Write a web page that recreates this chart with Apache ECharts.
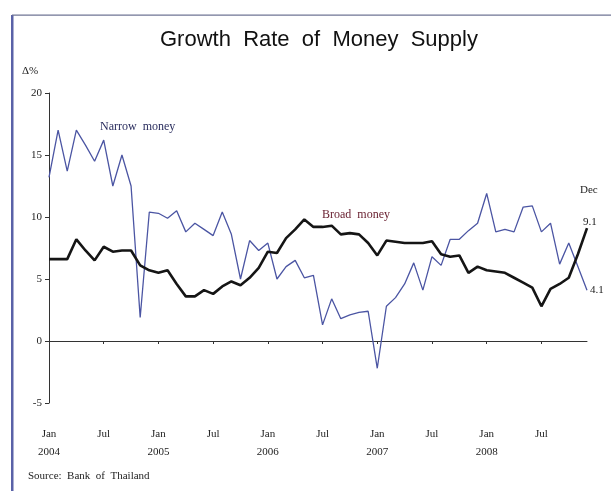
<!DOCTYPE html>
<html>
<head>
<meta charset="utf-8">
<script src="https://cdn.jsdelivr.net/npm/echarts@6/dist/echarts.min.js"></script>
<style>
html,body{margin:0;padding:0;background:#fff;}
#chart{width:611px;height:491px;}
</style>
</head>
<body>
<div id="chart"></div>
<script>
const years = ['2004', '2005', '2006', '2007', '2008'];
const monthNames = ['Jan','Feb','Mar','Apr','May','Jun','Jul','Aug','Sep','Oct','Nov','Dec'];
const categories = [];
years.forEach(y => monthNames.forEach(m => categories.push(m + ' ' + y)));

const tickLabels = ['Jan\n2004','Jul','Jan\n2005','Jul','Jan\n2006','Jul','Jan\n2007','Jul','Jan\n2008','Jul'];
const yTicks = { min: -5, max: 20, interval: 5 };

const narrowMoney = [
  13.2, 17.0, 13.7, 17.0, 15.8, 14.5, 16.2, 12.5, 15.0, 12.5, 1.9, 10.4,
  10.3, 9.9, 10.5, 8.8, 9.5, 9.0, 8.5, 10.4, 8.6, 5.0, 8.1, 7.3,
  7.9, 5.0, 6.0, 6.5, 5.1, 5.3, 1.3, 3.4, 1.8, 2.1, 2.3, 2.4,
  -2.2, 2.8, 3.5, 4.6, 6.3, 4.1, 6.8, 6.1, 8.2, 8.2, 8.9, 9.5,
  11.9, 8.8, 9.0, 8.8, 10.8, 10.9, 8.8, 9.5, 6.2, 7.9, 6.0, 4.1
];
const broadMoney = [
  6.6, 6.6, 6.6, 8.2, 7.3, 6.5, 7.6, 7.2, 7.3, 7.3, 6.1, 5.7,
  5.5, 5.7, 4.6, 3.6, 3.6, 4.1, 3.8, 4.4, 4.8, 4.5, 5.1, 5.9,
  7.2, 7.1, 8.3, 9.0, 9.8, 9.2, 9.2, 9.3, 8.6, 8.7, 8.6, 7.9,
  6.9, 8.1, 8.0, 7.9, 7.9, 7.9, 8.05, 7.0, 6.8, 6.9, 5.5, 6.0,
  5.7, 5.6, 5.5, 5.1, 4.7, 4.3, 2.8, 4.2, 4.6, 5.1, 7.0, 9.1
];

const serif = 'Liberation Serif, DejaVu Serif, serif';
const chart = echarts.init(document.getElementById('chart'), null, {renderer: 'canvas'});
chart.setOption({
  backgroundColor: '#ffffff',
  animation: false,
  title: {
    text: 'Growth  Rate  of  Money  Supply',
    left: 155,
    top: 24,
    textStyle: { fontFamily: 'Liberation Sans, Arial, sans-serif', fontSize: 22, fontWeight: 'normal', color: '#111' }
  },
  grid: { left: 49, right: 24, top: 93, bottom: 88, containLabel: false },
  xAxis: [
    {
      type: 'category', data: categories, boundaryGap: false,
      axisLine: { onZero: true, lineStyle: { color: '#333', width: 1 } },
      axisTick: { show: true, length: 3, interval: (i) => i % 6 === 0, lineStyle: { color: '#333' } },
      axisLabel: { show: false },
      splitLine: { show: false }
    },
    {
      type: 'category', data: categories, boundaryGap: false, position: 'bottom',
      axisLine: { show: false }, axisTick: { show: false },
      axisLabel: {
        show: true, margin: 22, interval: (i) => i % 6 === 0,
        formatter: (v, i) => tickLabels[Math.round(i / 6)] || '',
        fontFamily: serif, fontSize: 11, color: '#222', lineHeight: 18, verticalAlign: 'top'
      }
    }
  ],
  yAxis: {
    type: 'value', min: yTicks.min, max: yTicks.max, interval: yTicks.interval,
    axisLine: { show: true, lineStyle: { color: '#333', width: 1 } },
    axisTick: { show: true, length: 4, lineStyle: { color: '#333' } },
    axisLabel: { fontFamily: serif, fontSize: 11, color: '#222', margin: 7 },
    splitLine: { show: false }
  },
  graphic: [
    { type: 'rect', shape: { x: 11, y: 15, width: 2.5, height: 480 }, style: { fill: '#5a62a8' } },
    { type: 'rect', shape: { x: 12, y: 14.5, width: 600, height: 1.2 }, style: { fill: '#6f7594' } },
    { type: 'text', left: 22, top: 66, style: { text: 'Δ%', fontFamily: serif, fontSize: 11, fill: '#222' } },
    { type: 'text', left: 100, top: 121, style: { text: 'Narrow  money', fontFamily: serif, fontSize: 12, fill: '#2a2d5e' } },
    { type: 'text', left: 322, top: 209, style: { text: 'Broad  money', fontFamily: serif, fontSize: 12, fill: '#6a2232' } },
    { type: 'text', left: 580, top: 185, style: { text: 'Dec', fontFamily: serif, fontSize: 11, fill: '#222' } },
    { type: 'text', left: 28, top: 471, style: { text: 'Source:  Bank  of  Thailand', fontFamily: serif, fontSize: 11, fill: '#222' } }
  ],
  series: [
    {
      name: 'Narrow money', type: 'line', data: narrowMoney, xAxisIndex: 0,
      symbol: 'none', lineStyle: { color: '#4b55a3', width: 1.3 },
      endLabel: { show: true, formatter: (p) => p.value.toFixed(1), fontFamily: serif, fontSize: 11, color: '#222', distance: 3 },
      z: 2
    },
    {
      name: 'Broad money', type: 'line', data: broadMoney, xAxisIndex: 0,
      symbol: 'none', lineStyle: { color: '#151515', width: 2.6 },
      endLabel: { show: true, formatter: (p) => p.value.toFixed(1), fontFamily: serif, fontSize: 11, color: '#222', distance: 3, offset: [-7, -6] },
      z: 3
    }
  ]
});
</script>
</body>
</html>
